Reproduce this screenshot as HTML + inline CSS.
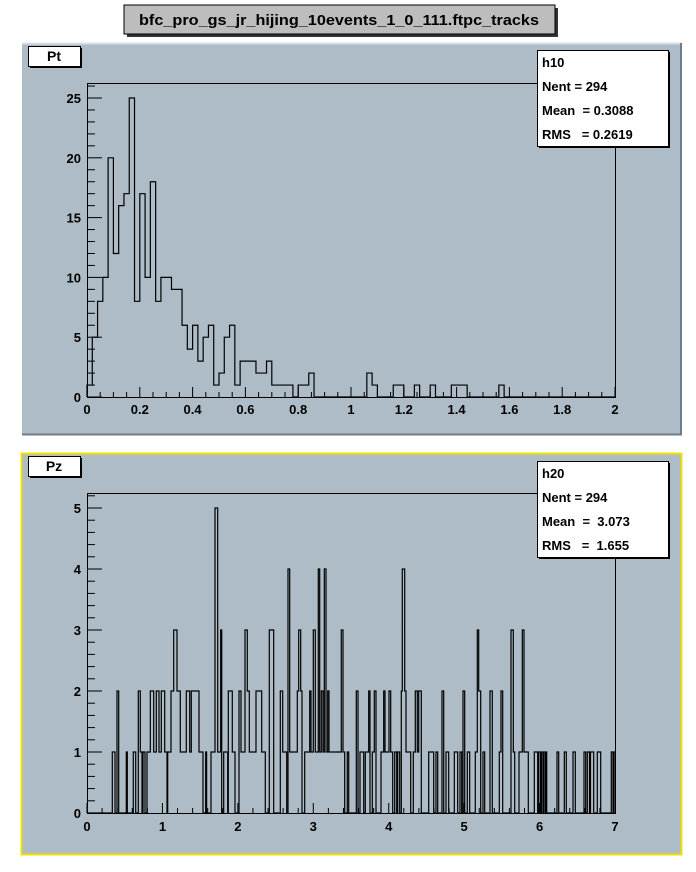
<!DOCTYPE html>
<html><head><meta charset="utf-8"><style>
html,body{margin:0;padding:0;background:#fff;}
svg{display:block;font-family:"Liberation Sans",sans-serif;}
text{white-space:pre;}
</style></head><body>
<svg id="s" width="696" height="872" xmlns="http://www.w3.org/2000/svg">
<rect width="696" height="872" fill="#fff"/>
<rect x="127" y="8" width="431" height="29" fill="#333"/>
<rect x="124" y="5" width="431" height="29" fill="#bdbdbd" stroke="#000" stroke-width="1"/>
<text x="339" y="25" font-size="15" font-weight="bold" text-anchor="middle" textLength="400" lengthAdjust="spacingAndGlyphs">bfc_pro_gs_jr_hijing_10events_1_0_111.ftpc_tracks</text>
<rect x="22" y="43" width="660" height="392" fill="#adbcc6"/>
<line x1="22" y1="43.5" x2="682" y2="43.5" stroke="#d8e0e6" stroke-width="2"/>
<line x1="22" y1="434.5" x2="682" y2="434.5" stroke="#6f7c86" stroke-width="2"/>
<line x1="681" y1="43" x2="681" y2="435" stroke="#6f7c86" stroke-width="2"/>
<rect x="21.5" y="453.5" width="660" height="401" fill="#adbcc6" stroke="#f0e000" stroke-width="2"/>
<g id="g"></g>
</svg>
<script>
var NS="http://www.w3.org/2000/svg",g=document.getElementById("g");
function el(t,a,txt){var e=document.createElementNS(NS,t);for(var k in a)e.setAttribute(k,a[k]);if(txt!==undefined)e.textContent=txt;g.appendChild(e);return e;}
function line(x1,y1,x2,y2){el("line",{x1:x1,y1:y1,x2:x2,y2:y2,stroke:"#000","stroke-width":1});}
function frame(x0,y0,x1,y1){el("rect",{x:x0+.5,y:y0+.5,width:x1-x0,height:y1-y0,fill:"none",stroke:"#000","stroke-width":1});}
function steps(segs,x0,xe,yb,sy){
 var d="M"+x0+","+yb,cx=x0,cy=yb;
 segs.forEach(function(s){var a=s[0],b=s[1],v=yb-s[2]*sy;
  if(a>cx+0.3){d+="L"+cx+","+yb+"L"+a+","+yb;cy=yb;}
  d+="L"+a+","+v+"L"+b+","+v;cx=b;cy=v;});
 d+="L"+cx+","+yb+"L"+xe+","+yb;
 el("path",{d:d,fill:"none",stroke:"#000","stroke-width":1.2});
}
function label(x,y,t,anch,fs){el("text",{x:x,y:y,"font-size":fs||13,"font-weight":"bold","text-anchor":anch||"middle"},t);}
function box(x,y,w,h,t){el("rect",{x:x+2,y:y+2,width:w,height:h,fill:"#000"});el("rect",{x:x+.5,y:y+.5,width:w,height:h,fill:"#fff",stroke:"#000"});el("text",{x:x+w/2,y:y+h-5,"font-size":14,"font-weight":"bold","text-anchor":"middle"},t);}
function stats(x,y,lines){el("rect",{x:x+2,y:y+2,width:131,height:96,fill:"#000"});el("rect",{x:x+.5,y:y+.5,width:131,height:96,fill:"#fff",stroke:"#000"});
 lines.forEach(function(l,i){el("text",{x:x+5,y:y+17+i*24,"font-size":13,"font-weight":"bold"},l);});}

var X0=87,X1=615,Y0=83,Yb=397,sy=11.96,px=264;
frame(X0,Y0,X1,Yb);
var vals=[1,5,8,10,20,12,16,17,25,8,17,10,18,8,10,10,9,9,6,4,6,3,5,6,1,2,5,6,1,3,3,3,2,2,3,1,1,1,1,0,1,1,2];
vals=vals.concat(new Array(100-vals.length).fill(0));
vals[53]=2;vals[54]=1;vals[58]=1;vals[59]=1;vals[62]=1;vals[65]=1;vals[69]=1;vals[70]=1;vals[71]=1;vals[78]=1;
var segs=[];for(var i=0;i<100;i++)if(vals[i]>0)segs.push([X0+i*5.28,X0+(i+1)*5.28,vals[i]]);
steps(segs,X0,X1,Yb,sy);
for(var k=0;k<=40;k++){var x=X0+k*0.05*px;line(x,Yb,x,Yb-(k%4==0?10:5));}
for(var k=0;k<=26;k++){var y=Yb-k*sy;line(X0,y,X0+(k%5==0?15:8),y);}
["0","0.2","0.4","0.6","0.8","1","1.2","1.4","1.6","1.8","2"].forEach(function(t,i){label(X0+i*0.2*px,414,t);});
for(var k=0;k<=25;k+=5)label(81,Yb-k*sy+5,""+k,"end");
box(28,46,52,20,"Pt");
stats(537,50,["h10","Nent = 294","Mean  = 0.3088","RMS   = 0.2619"]);

var B0=493,Bb=813,bs=61,bp=75.43;
frame(X0,B0,X1,Bb);
var s2=[[112.3,115,1],[117,118.7,2],[126.3,127.3,1],[133.3,135.7,1],[138.3,140.3,2],[140.3,142,1],[143,145,1],[147,150.3,1],[150.3,153.7,2],[153.7,156.3,1],[156.3,159,2],[159,161.3,1],[161.3,164.7,2],[164.7,167,1],[167.7,169,1],[169,171,1],[171,173.7,2],[173.7,177,3],[177,180.3,2],[180.3,186.3,1],[186.3,189.7,2],[189.7,191.3,1],[191.3,197.3,2],[197.3,199,2],[199,203,1],[205.7,206.6,1],[211,215,1],[215,217.7,5],[217.7,220.7,1],[220.7,221.7,3],[223.7,227.7,1],[228.3,232.3,2],[232.3,235,1],[239,241,2],[241,245,1],[245,247.3,3],[247.3,249.3,2],[249.3,251.7,1],[251.7,253.3,1],[253.3,256,1],[256,261.7,2],[261.7,263.3,1],[263.3,265.3,1],[269.3,273.7,3],[280.3,282.7,2],[282.7,286.7,1],[288,289.7,4],[289.7,297.3,1],[297.3,298.7,2],[298.7,300.7,3],[300.7,302,2],[304.7,306.7,1],[306.7,309.7,1],[309.7,311,2],[311,313.3,1],[313.3,315.3,3],[315.3,318.3,1],[318.3,319.7,4],[319.7,321.3,1],[321.3,323,2],[323,324.3,1],[324.3,326,4],[326,327.7,1],[327.7,329,2],[329,339.3,1],[339.3,341.3,1],[341.3,343,3],[343,344.7,1],[347.3,348.7,1],[356.3,358,2],[360,363.7,1],[365.3,368.7,1],[368.7,370,2],[372.3,374.3,1],[374.3,376,2],[381,383.7,1],[383.7,385,2],[385,389,1],[389,390.7,2],[390.7,392.7,1],[394.7,396.7,1],[397.7,399.7,1],[401.3,402.3,2],[402.3,404.7,4],[404.7,406,2],[406,410.7,1],[413.3,415.3,1],[415.3,417.3,2],[417.3,418.7,1],[418.7,421.3,2],[428.7,433.7,1],[436,437.7,1],[442,443.7,2],[446,448.7,1],[454.3,457.7,1],[460,461.7,1],[463,464.7,2],[467.3,469.7,1],[475.3,477.3,1],[477.3,478.7,3],[478.7,480.7,2],[483,484.7,1],[490,492.3,2],[499.3,501,1],[501,502.7,2],[511,513.3,3],[513.3,514.7,1],[519,522.3,1],[522.3,524,3],[524,528.3,1],[534.3,537.7,1],[538.7,540.5,1],[541.5,543,1],[543.5,545,1],[545.5,546.7,1],[557,558.7,1],[564.3,566.3,1],[573,575.3,1],[584,585.7,1],[587.3,589.5,1],[590.5,593.7,1],[597.3,600.7,1],[611.3,613,1],[613.5,615,1]];
steps(s2,X0,X1,Bb,bs);
for(var k=0;k<=35;k++){var x=X0+k*0.2*bp;line(x,Bb,x,Bb-(k%5==0?10:5));}
for(var k=0;k<=26;k++){var y=Bb-k*0.2*bs;if(y<B0)break;line(X0,y,X0+(k%5==0?15:8),y);}
for(var i=0;i<=7;i++)label(X0+i*bp,831,""+i);
for(var k=0;k<=5;k++)label(81,Bb-k*bs+5,""+k,"end");
box(28,456,52,20,"Pz");
stats(537,461,["h20","Nent = 294","Mean  =  3.073","RMS   =  1.655"]);
</script>
</body></html>
